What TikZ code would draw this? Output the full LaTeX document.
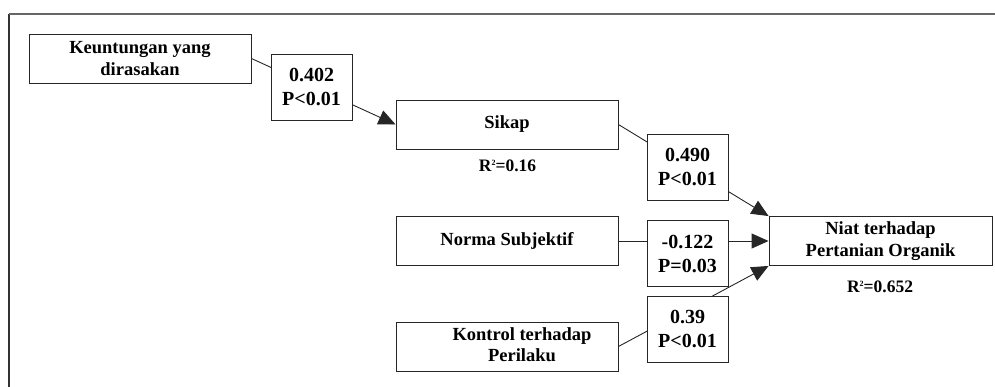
\documentclass[tikz,border=0pt]{standalone}
\usepackage{fontspec}
\setmainfont{Liberation Serif}
\usetikzlibrary{arrows.meta}
\newcommand{\sqtwo}{\raisebox{6.5pt}{\fontsize{8}{8}\selectfont 2}}
\begin{document}
\begin{tikzpicture}[x=1pt,y=-1pt,
  box/.style={draw=black!85, line width=0.9pt, fill=white, inner sep=0pt,
    minimum width=222pt, minimum height=49pt, align=center,
    font=\fontsize{18.5}{22.5}\selectfont\bfseries},
  lbl/.style={draw=black!85, line width=0.9pt, fill=white, inner sep=0pt,
    minimum width=81pt, minimum height=66pt, align=center,
    font=\fontsize{20}{24}\selectfont\bfseries},
  rsq/.style={font=\fontsize{17.5}{20}\selectfont\bfseries, inner sep=0pt},
  conn/.style={draw=black!85, line width=0.9pt},
  arr/.style={conn, -{Triangle[length=17pt,width=15pt]}}]
\useasboundingbox (0,0) rectangle (995,387);
% frame
\draw[black!80, line width=1.6pt] (9,14) -- (9,387);
\draw[black!60, line width=2pt] (9,14) -- (995,14);
% boxes
\node[box] (keun) at (140,58.5) {Keuntungan yang\\dirasakan};
\node[box] (sikap) at (507,124.5) {Sikap};
\node[box] (norma) at (507,241) {Norma Subjektif};
\node[box] (kontrol) at (507,346.5) {\hspace*{30pt}\begin{tabular}{@{}c@{}}Kontrol terhadap\\[-2pt]Perilaku\end{tabular}};
\node[box, minimum width=223pt] (niat) at (880.5,241) {Niat terhadap\\Pertanian Organik};
\node[rsq] (r1) at (507.5,166) {R\sqtwo=0.16};
\node[rsq] (r2) at (880,287) {R\sqtwo=0.652};
% connectors
\draw[arr] (keun.east) -- (sikap.west);
\draw[arr] (sikap.east) -- (niat.north west);
\draw[arr] (norma.east) -- (niat.west);
\draw[arr] (kontrol.east) -- (niat.south west);
% coefficient labels
\node[lbl] (l1) at (311.5,87) {0.402\\P<0.01};
\node[lbl] (l2) at (687.5,167) {0.490\\P<0.01};
\node[lbl] (l3) at (687.5,253.5) {-0.122\\P=0.03};
\node[lbl] (l4) at (687.5,329) {0.39\\P<0.01};
\end{tikzpicture}
\end{document}
